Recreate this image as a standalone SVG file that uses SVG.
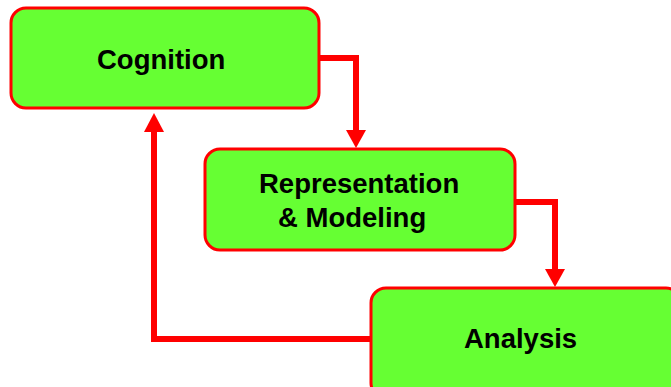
<svg xmlns="http://www.w3.org/2000/svg" width="671" height="387" viewBox="0 0 671 387">
<style>
.box{fill:#66FF33;stroke:#FF0000;stroke-width:3}
.lbl{font-family:"Liberation Sans",Arial,sans-serif;font-weight:bold;font-size:27.5px;fill:#000}
.wire{fill:none;stroke:#FF0000;stroke-width:6;stroke-linejoin:miter}
.head{fill:#FF0000}
</style>
<rect width="671" height="387" fill="#FFFFFF"/>
<g id="connectors">
<path class="wire" d="M319,58 H356 V131"/>
<polygon class="head" points="346,130 366,130 356,148"/>
<path class="wire" d="M514,202 H555 V270"/>
<polygon class="head" points="545,269 565,269 555,287"/>
<path class="wire" d="M372,339 H154 V131"/>
<polygon class="head" points="144,132 164,132 154,113"/>
</g>
<g id="cognition">
<rect class="box" x="11" y="8" width="308" height="100" rx="15"/>
<text class="lbl" x="97" y="69">Cognition</text>
</g>
<g id="representation">
<rect class="box" x="205" y="149" width="310" height="101" rx="15"/>
<text class="lbl" x="259" y="193">Representation</text>
<text class="lbl" x="278" y="227">&amp; Modeling</text>
</g>
<g id="analysis">
<rect class="box" x="371" y="288" width="310" height="110" rx="15"/>
<text class="lbl" x="464" y="348">Analysis</text>
</g>
</svg>
